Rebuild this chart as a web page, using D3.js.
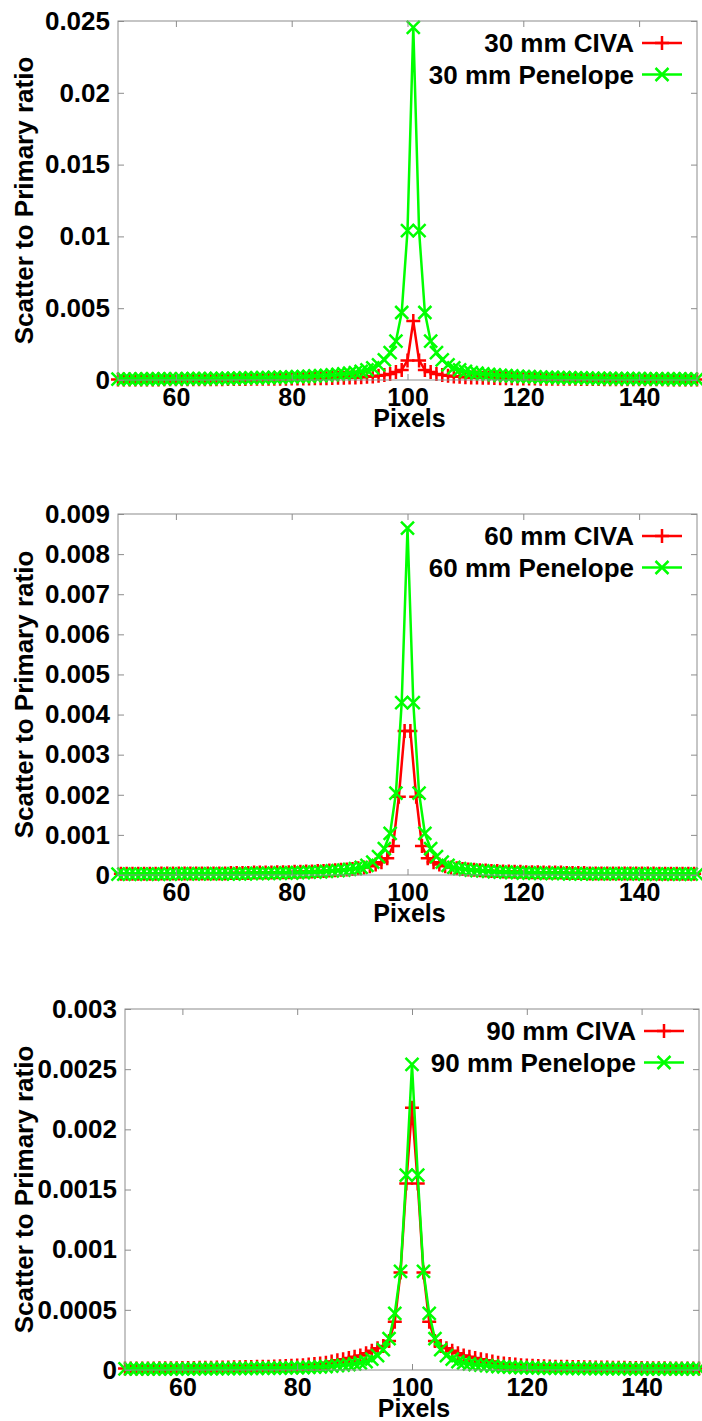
<!DOCTYPE html>
<html>
<head>
<meta charset="utf-8">
<script src="https://cdn.jsdelivr.net/npm/d3@7"></script>
<style>
  body { margin: 0; background: #fff; }
  text { font-family: "Liberation Sans", Arial, sans-serif; font-weight: bold; fill: #000; }
</style>
</head>
<body>
<div id="chart"></div>
<script>
// pixel index along the profile
const pixels = d3.range(50, 151);
const halfPixels = d3.range(50.5, 150, 1);

const xTicks = [60, 80, 100, 120, 140];
const yTicks30 = [0, 0.005, 0.01, 0.015, 0.02, 0.025];
const yTicks60 = [0, 0.001, 0.002, 0.003, 0.004, 0.005, 0.006, 0.007, 0.008, 0.009];
const yTicks90 = [0, 0.0005, 0.001, 0.0015, 0.002, 0.0025, 0.003];

// 30 mm, pixels 50..150
const civa30 = [
  .00004, .00004, .00004, .00004, .00004, .00004, .00004, .00004, .00005, .00005,
  .00005, .00005, .00005, .00005, .00006, .00006, .00006, .00006, .00006, .00007,
  .00007, .00007, .00007, .00008, .00008, .00008, .00008, .00009, .00009, .00009,
  .0001, .0001, .00011, .00011, .00012, .00012, .00013, .00014, .00015, .00016,
  .00017, .00018, .0002, .00022, .00025, .00029, .00034, .00042, .00055, .0007,
  .00136, .0041,
  .00136, .0007, .00055, .00042, .00034, .00029, .00025, .00022, .0002, .00018,
  .00017, .00016, .00015, .00014, .00013, .00012, .00012, .00011, .00011, .0001,
  .0001, .00009, .00009, .00009, .00008, .00008, .00008, .00008, .00007, .00007,
  .00007, .00007, .00006, .00006, .00006, .00006, .00006, .00005, .00005, .00005,
  .00005, .00005, .00005, .00004, .00004, .00004, .00004, .00004, .00004
];
const penelope30 = [
  .00006, .00006, .00006, .00006, .00007, .00007, .00007, .00007, .00008, .00008,
  .00008, .00008, .00009, .00009, .00009, .0001, .0001, .00011, .00011, .00012,
  .00012, .00013, .00014, .00014, .00015, .00016, .00017, .00018, .00019, .0002,
  .00021, .00023, .00024, .00026, .00028, .0003, .00033, .00036, .00039, .00043,
  .00047, .00052, .0006, .0007, .00085, .00105, .0014, .0019, .0027, .0047,
  .0104, .02456,
  .0104, .0047, .0027, .0019, .0014, .00105, .00085, .0007, .0006, .00052,
  .00047, .00043, .00039, .00036, .00033, .0003, .00028, .00026, .00024, .00023,
  .00021, .0002, .00019, .00018, .00017, .00016, .00015, .00014, .00014, .00013,
  .00012, .00012, .00011, .00011, .0001, .0001, .00009, .00009, .00009, .00008,
  .00008, .00008, .00008, .00007, .00007, .00007, .00007, .00006, .00006
];

// 60 mm, CIVA on half pixels 50.5..149.5, Penelope on pixels 50..150
const civa60 = [
  .00003, .00003, .00003, .00003, .00003, .00003, .00003, .00004, .00004, .00004,
  .00004, .00004, .00004, .00004, .00004, .00004, .00004, .00004, .00004, .00005,
  .00005, .00005, .00005, .00006, .00006, .00006, .00006, .00007, .00007, .00007,
  .00008, .00008, .00009, .00009, .0001, .0001, .00011, .00012, .00013, .00014,
  .00015, .00017, .00019, .00022, .00026, .00032, .00042, .00072, .00195, .00359,
  .00359, .00195, .00072, .00042, .00032, .00026, .00022, .00019, .00017, .00015,
  .00014, .00013, .00012, .00011, .0001, .0001, .00009, .00009, .00008, .00008,
  .00007, .00007, .00007, .00006, .00006, .00006, .00006, .00005, .00005, .00005,
  .00005, .00004, .00004, .00004, .00004, .00004, .00004, .00004, .00004, .00004,
  .00004, .00004, .00004, .00003, .00003, .00003, .00003, .00003, .00003, .00003
];
const penelope60 = [
  .00002, .00002, .00002, .00002, .00002, .00002, .00002, .00002, .00002, .00002,
  .00003, .00003, .00003, .00003, .00003, .00003, .00003, .00003, .00003, .00003,
  .00003, .00003, .00003, .00004, .00004, .00004, .00004, .00004, .00005, .00005,
  .00005, .00006, .00006, .00007, .00007, .00008, .00009, .0001, .00011, .00012,
  .00014, .00016, .00019, .00024, .00032, .00046, .00066, .00104, .00204, .0043,
  .00865,
  .0043, .00204, .00104, .00066, .00046, .00032, .00024, .00019, .00016, .00014,
  .00012, .00011, .0001, .00009, .00008, .00007, .00007, .00006, .00006, .00005,
  .00005, .00005, .00004, .00004, .00004, .00004, .00004, .00003, .00003, .00003,
  .00003, .00003, .00003, .00003, .00003, .00003, .00003, .00003, .00003, .00003,
  .00002, .00002, .00002, .00002, .00002, .00002, .00002, .00002, .00002, .00002
];

// 90 mm, pixels 50..150
const civa90 = [
  .000012, .000012, .000012, .000012, .000013, .000013, .000014, .000014, .000015, .000015,
  .000016, .000016, .000017, .000018, .000018, .000019, .00002, .00002, .000021, .000022,
  .000023, .000024, .000025, .000026, .000027, .000028, .00003, .000031, .000033, .000035,
  .000038, .00004, .000045, .00005, .000055, .00006, .00007, .00008, .00009, .0001,
  .00011, .00012, .00014, .00016, .00018, .0002, .00024, .0004, .00081, .00155,
  .00218,
  .00155, .00081, .0004, .00024, .0002, .00018, .00016, .00014, .00012, .00011,
  .0001, .00009, .00008, .00007, .00006, .000055, .00005, .000045, .00004, .000038,
  .000035, .000033, .000031, .00003, .000028, .000027, .000026, .000025, .000024, .000023,
  .000022, .000021, .00002, .00002, .000019, .000018, .000018, .000017, .000016, .000016,
  .000015, .000015, .000014, .000014, .000013, .000013, .000012, .000012, .000012, .000012
];
const penelope90 = [
  .00001, .00001, .00001, .00001, .00001, .00001, .00001, .00001, .00001, .00001,
  .00001, .00001, .00001, .000011, .000011, .000011, .000012, .000012, .000012, .000013,
  .000013, .000013, .000014, .000014, .000015, .000015, .000016, .000016, .000017, .000018,
  .000019, .00002, .000022, .000024, .000026, .000029, .000032, .000036, .00004, .000045,
  .00005, .00006, .00007, .00009, .00012, .00017, .00026, .00047, .00082, .00162,
  .00254,
  .00162, .00082, .00047, .00026, .00017, .00012, .00009, .00007, .00006, .00005,
  .000045, .00004, .000036, .000032, .000029, .000026, .000024, .000022, .00002, .000019,
  .000018, .000017, .000016, .000016, .000015, .000015, .000014, .000014, .000013, .000013,
  .000013, .000012, .000012, .000012, .000011, .000011, .000011, .00001, .00001, .00001,
  .00001, .00001, .00001, .00001, .00001, .00001, .00001, .00001, .00001, .00001
];

const width = 702;
const height = 1421;
const red = "#ff0000";
const green = "#00ff00";
const frameColor = "#8c8c8c";
const plusPath = "M-7,0H7M0,-7V7";
const crossPath = "M-6.5,-6.5L6.5,6.5M-6.5,6.5L6.5,-6.5";

const panels = [
  { left: 118, right: 697, top: 21, bottom: 380, ticks: yTicks30,
    series: [
      { name: "30 mm CIVA", x: pixels, y: civa30, color: red, marker: plusPath },
      { name: "30 mm Penelope", x: pixels, y: penelope30, color: green, marker: crossPath }
    ] },
  { left: 118, right: 697, top: 514, bottom: 875, ticks: yTicks60,
    series: [
      { name: "60 mm CIVA", x: halfPixels, y: civa60, color: red, marker: plusPath },
      { name: "60 mm Penelope", x: pixels, y: penelope60, color: green, marker: crossPath }
    ] },
  { left: 125, right: 699, top: 1009, bottom: 1370, ticks: yTicks90,
    series: [
      { name: "90 mm CIVA", x: pixels, y: civa90, color: red, marker: plusPath },
      { name: "90 mm Penelope", x: pixels, y: penelope90, color: green, marker: crossPath }
    ] }
];

const svg = d3.select("#chart").append("svg")
  .attr("width", width)
  .attr("height", height);

const fmt = d3.format("~g");

function styleAxis(sel, fontSize) {
  sel.select(".domain").remove();
  sel.selectAll(".tick line").attr("stroke", frameColor).attr("stroke-width", 1);
  if (fontSize) {
    sel.selectAll(".tick text").style("font-size", fontSize).attr("fill", "#000");
  } else {
    sel.selectAll(".tick text").remove();
  }
}

panels.forEach(function(p) {
  const x = d3.scaleLinear().domain([50, 150]).range([p.left, p.right]);
  const y = d3.scaleLinear().domain([0, d3.max(p.ticks)]).range([p.bottom, p.top]);
  const g = svg.append("g");

  const line = d3.line()
    .x(function(d) { return x(d[0]); })
    .y(function(d) { return y(d[1]); });

  // data: CIVA first, Penelope drawn over it
  p.series.forEach(function(s) {
    const pts = s.x.map(function(v, i) { return [v, s.y[i]]; });
    g.append("path")
      .datum(pts)
      .attr("d", line)
      .attr("fill", "none")
      .attr("stroke", s.color)
      .attr("stroke-width", 2.5)
      .attr("stroke-linejoin", "round");
    g.append("g").selectAll("path")
      .data(pts)
      .join("path")
      .attr("transform", function(d) { return "translate(" + x(d[0]) + "," + y(d[1]) + ")"; })
      .attr("d", s.marker)
      .attr("fill", "none")
      .attr("stroke", s.color)
      .attr("stroke-width", 2.5);
  });

  // border and inward ticks on all four sides
  g.append("rect")
    .attr("x", p.left).attr("y", p.top)
    .attr("width", p.right - p.left).attr("height", p.bottom - p.top)
    .attr("fill", "none")
    .attr("stroke", frameColor)
    .attr("stroke-width", 1);

  g.append("g")
    .attr("transform", "translate(" + p.left + ",0)")
    .call(d3.axisLeft(y).tickValues(p.ticks).tickFormat(fmt).tickSizeInner(-6).tickSizeOuter(0).tickPadding(8))
    .call(styleAxis, "26px");
  g.append("g")
    .attr("transform", "translate(" + p.right + ",0)")
    .call(d3.axisRight(y).tickValues(p.ticks).tickSizeInner(-6).tickSizeOuter(0))
    .call(styleAxis, null);
  g.append("g")
    .attr("transform", "translate(0," + p.bottom + ")")
    .call(d3.axisBottom(x).tickValues(xTicks).tickSizeInner(-6).tickSizeOuter(0).tickPadding(8))
    .call(styleAxis, "25px");
  g.append("g")
    .attr("transform", "translate(0," + p.top + ")")
    .call(d3.axisTop(x).tickValues(xTicks).tickSizeInner(-6).tickSizeOuter(0))
    .call(styleAxis, null);

  // axis titles
  g.append("text")
    .attr("x", (p.left + p.right) / 2 + 2)
    .attr("y", p.bottom + 47)
    .attr("text-anchor", "middle")
    .style("font-size", "25px")
    .text("Pixels");
  g.append("text")
    .attr("transform", "translate(33," + (p.top + p.bottom) / 2 + ") rotate(-90)")
    .attr("text-anchor", "middle")
    .style("font-size", "26px")
    .text("Scatter to Primary ratio");

  // legend
  p.series.forEach(function(s, i) {
    const cy = p.top + 22 + i * 31.5;
    g.append("text")
      .attr("x", p.right - 63)
      .attr("y", cy)
      .attr("dy", "0.35em")
      .attr("text-anchor", "end")
      .style("font-size", "26px")
      .text(s.name);
    g.append("line")
      .attr("x1", p.right - 55).attr("x2", p.right - 15)
      .attr("y1", cy).attr("y2", cy)
      .attr("stroke", s.color)
      .attr("stroke-width", 2.5);
    g.append("path")
      .attr("transform", "translate(" + (p.right - 35) + "," + cy + ")")
      .attr("d", s.marker)
      .attr("fill", "none")
      .attr("stroke", s.color)
      .attr("stroke-width", 2.5);
  });
});
</script>
</body>
</html>
